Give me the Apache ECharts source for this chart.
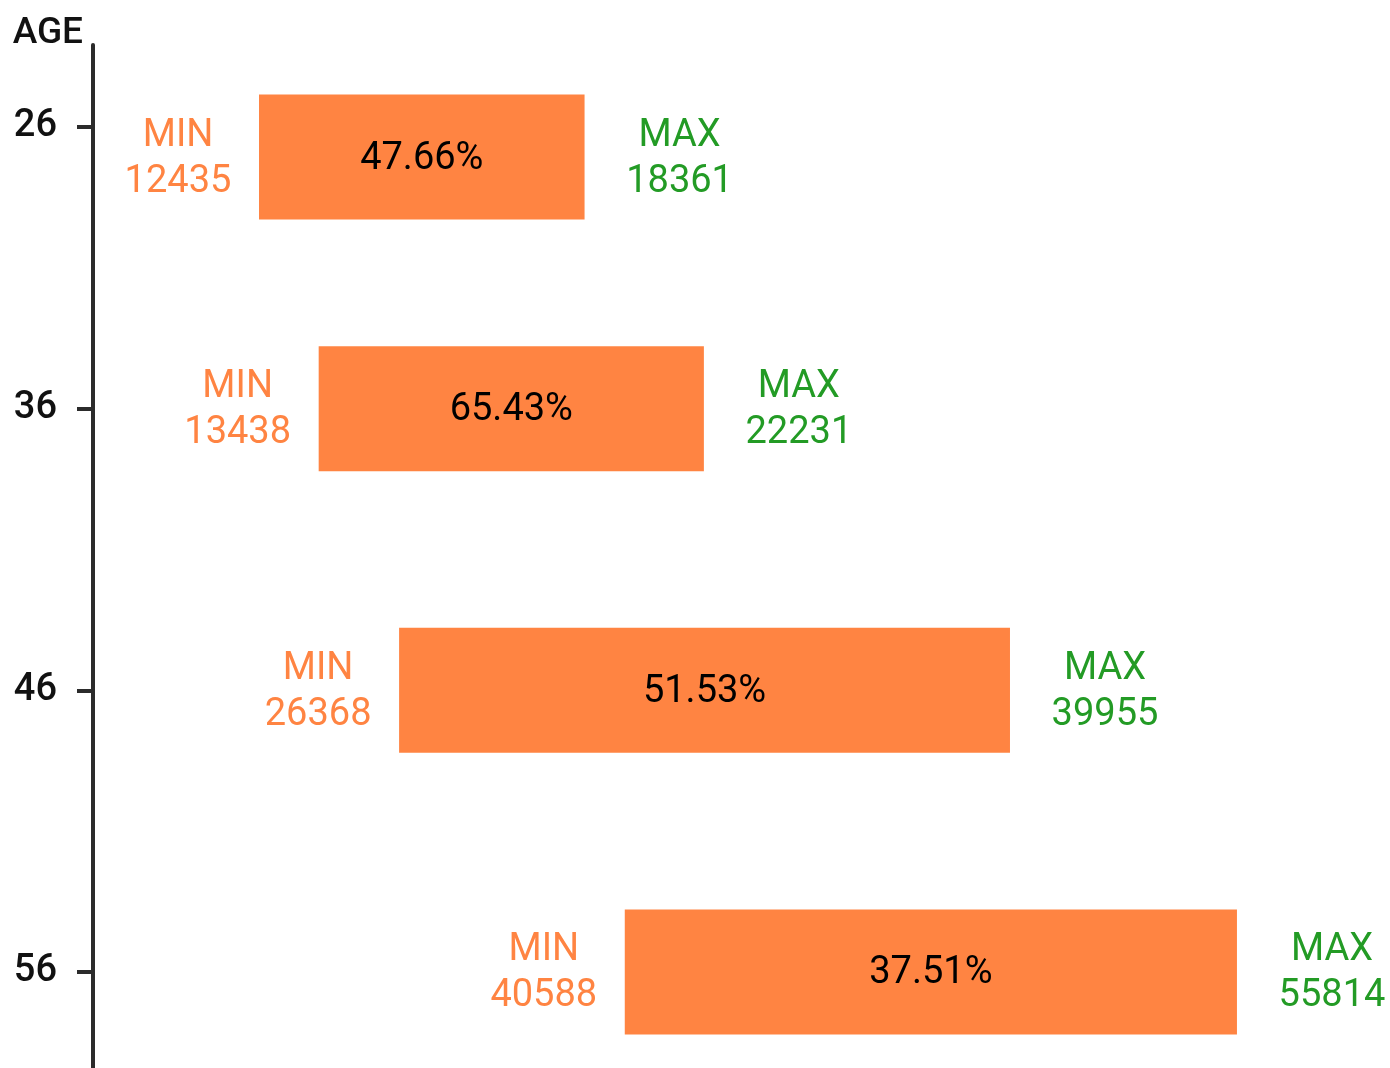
<!DOCTYPE html>
<html>
<head>
<meta charset="utf-8">
<style>
  html, body { margin: 0; padding: 0; background: #fff; }
  #chart { width: 1390px; height: 1068px; }
</style>
<script src="https://cdn.jsdelivr.net/npm/echarts@6/dist/echarts.min.js"></script>
</head>
<body>
<div id="chart"></div>
<script>
// ======================
// DATA
// ======================
const ages = [27.07, 36, 46, 56];
const ageTicks = [26, 36, 46, 56];
const minSalary = [12435, 13438, 26368, 40588];
const maxSalary = [18361, 22231, 39955, 55814];
const growth = ["47.66%", "65.43%", "51.53%", "37.51%"];
// where each bar sits on the hidden horizontal track (0-100)
const spanFrom = [12.8, 17.4, 23.6, 41.0];
const spanTo = [37.9, 47.1, 70.7, 88.2];

// ======================
// COLORS
// ======================
const COLORS = {
    bar: "#ff8442",
    min: "#ff8442",
    max: "#239b25",
    axis: "#2b2b2b",
    text: "#111111"
};
const FONT = "Roboto, sans-serif";

const rows = ages.map((a, i) => [spanFrom[i], spanTo[i], a, minSalary[i], maxSalary[i], growth[i]]);

const chart = echarts.init(document.getElementById("chart"));
chart.setOption({
    backgroundColor: "#ffffff",
    animation: false,
    textStyle: { fontFamily: FONT },
    grid: { left: 93, right: 0, top: 45, bottom: 0 },
    xAxis: {
        type: "value",
        min: 0,
        max: 100,
        show: false
    },
    yAxis: {
        type: "value",
        inverse: true,
        min: 23.09,
        max: 59.41,
        name: "AGE",
        nameLocation: "start",
        nameGap: 11,
        nameTextStyle: {
            color: COLORS.text,
            fontSize: 37,
            fontWeight: 500,
            fontFamily: FONT,
            align: "right",
            verticalAlign: "middle",
            padding: [0, 10, 0, 0]
        },
        axisLine: { show: true, lineStyle: { color: COLORS.axis, width: 4 } },
        axisTick: {
            show: true,
            length: 16,
            customValues: ageTicks,
            lineStyle: { color: COLORS.axis, width: 4 }
        },
        axisLabel: {
            customValues: ageTicks,
            margin: 36,
            color: COLORS.text,
            fontSize: 38,
            fontWeight: 500,
            fontFamily: FONT,
            padding: [4, 0, 0, 0]
        },
        splitLine: { show: false }
    },
    series: [{
        type: "custom",
        data: rows,
        renderItem: (params, api) => {
            const start = api.coord([api.value(0), api.value(2)]);
            const end = api.coord([api.value(1), api.value(2)]);
            const h = 125;
            const i = params.dataIndex;
            const ty = start[1] + 2;
            return {
                type: "group",
                children: [
                    {
                        type: "rect",
                        shape: { x: start[0], y: start[1] - h / 2, width: end[0] - start[0], height: h },
                        style: { fill: COLORS.bar }
                    },
                    {
                        type: "text",
                        x: (start[0] + end[0]) / 2,
                        y: ty,
                        style: {
                            text: growth[i],
                            fill: "#000",
                            font: "400 38px " + FONT,
                            align: "center",
                            verticalAlign: "middle"
                        }
                    },
                    {
                        type: "text",
                        x: start[0] - 81,
                        y: ty,
                        style: {
                            text: "MIN\n" + minSalary[i],
                            fill: COLORS.min,
                            font: "400 38px " + FONT,
                            lineHeight: 46,
                            align: "center",
                            verticalAlign: "middle"
                        }
                    },
                    {
                        type: "text",
                        x: end[0] + 95,
                        y: ty,
                        style: {
                            text: "MAX\n" + maxSalary[i],
                            fill: COLORS.max,
                            font: "400 38px " + FONT,
                            lineHeight: 46,
                            align: "center",
                            verticalAlign: "middle"
                        }
                    }
                ]
            };
        }
    }]
});

window.addEventListener("resize", () => chart.resize());
</script>
</body>
</html>
